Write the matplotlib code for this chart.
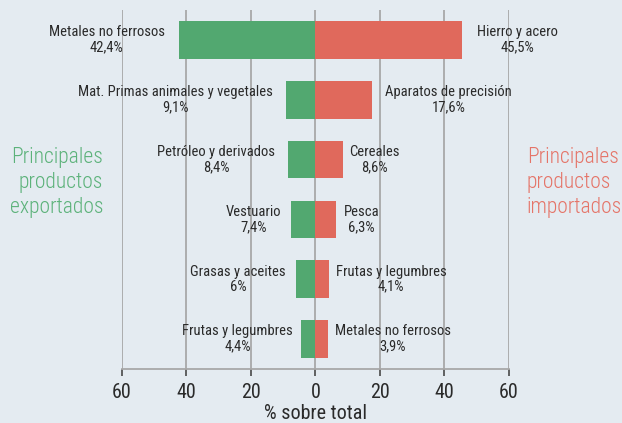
import matplotlib
matplotlib.use("Agg")
import matplotlib.pyplot as plt

FONT = ['Roboto Condensed', 'DejaVu Sans']

export_labels = ["Metales no ferrosos", "Mat. Primas animales y vegetales", "Petróleo y derivados",
                 "Vestuario", "Grasas y aceites", "Frutas y legumbres"]
export_values = [42.4, 9.1, 8.4, 7.4, 6.0, 4.4]
export_text = ["42,4%", "9,1%", "8,4%", "7,4%", "6%", "4,4%"]
import_labels = ["Hierro y acero", "Aparatos de precisión", "Cereales", "Pesca",
                 "Frutas y legumbres", "Metales no ferrosos"]
import_values = [45.5, 17.6, 8.6, 6.3, 4.1, 3.9]
import_text = ["45,5%", "17,6%", "8,6%", "6,3%", "4,1%", "3,9%"]
ticks = [-60, -40, -20, 0, 20, 40, 60]
tick_labels = ["60", "40", "20", "0", "20", "40", "60"]

# label gaps from bar ends (layout only, in axis units)
export_gap = [4.3, 4.0, 4.0, 3.1, 3.1, 2.5]
import_gap = [4.7, 4.0, 1.9, 2.5, 2.2, 2.2]

bg = '#e4ebf1'
green = '#52a870'
red = '#e0695c'
txtc = '#2a2a2a'

fig = plt.figure(figsize=(6.22, 4.23), dpi=100, facecolor=bg)
ax = fig.add_axes([0.196, 0.128, 0.622, 0.848], facecolor=bg)

y = list(range(len(export_values)))
ax.barh(y, [-v for v in export_values], height=0.63, color=green, zorder=3)
ax.barh(y, import_values, height=0.63, color=red, zorder=3)

for i in y:
    ax.text(-export_values[i] - export_gap[i], i, export_labels[i] + "\n" + export_text[i],
            ha='right', va='center', multialignment='center', fontsize=10.5,
            family=FONT, color=txtc, linespacing=1.1, zorder=4)
    ax.text(import_values[i] + import_gap[i], i, import_labels[i] + "\n" + import_text[i],
            ha='left', va='center', multialignment='center', fontsize=10.5,
            family=FONT, color=txtc, linespacing=1.1, zorder=4)

ax.set_xlim(-60, 60)
ax.set_ylim(5.5, -0.5)
ax.set_xticks(ticks)
ax.set_xticklabels(tick_labels, fontsize=14.5, family=FONT, color=txtc)
ax.set_yticks([])
for t in ticks:
    ax.axvline(t, color='#a8a8a8', lw=1.3, zorder=1)
for s in ['top', 'left', 'right']:
    ax.spines[s].set_visible(False)
ax.spines['bottom'].set_color('#a8a8a8')
ax.spines['bottom'].set_linewidth(1.3)
ax.tick_params(axis='x', length=5, width=1.3, color='#555555', pad=5)
ax.set_xlabel("% sobre total", fontsize=14.5, family=FONT, color=txtc, labelpad=1.5)

fig.text(0.166, 0.568, "Principales\nproductos\nexportados", ha='right', va='center',
         fontsize=15.5, color='#5cb27a', family=FONT, fontweight='light', linespacing=1.25)
fig.text(0.847, 0.568, "Principales\nproductos\nimportados", ha='left', va='center',
         fontsize=15.5, color='#e57468', family=FONT, fontweight='light', linespacing=1.25)

fig.savefig("out.png", dpi=100, facecolor=bg)
